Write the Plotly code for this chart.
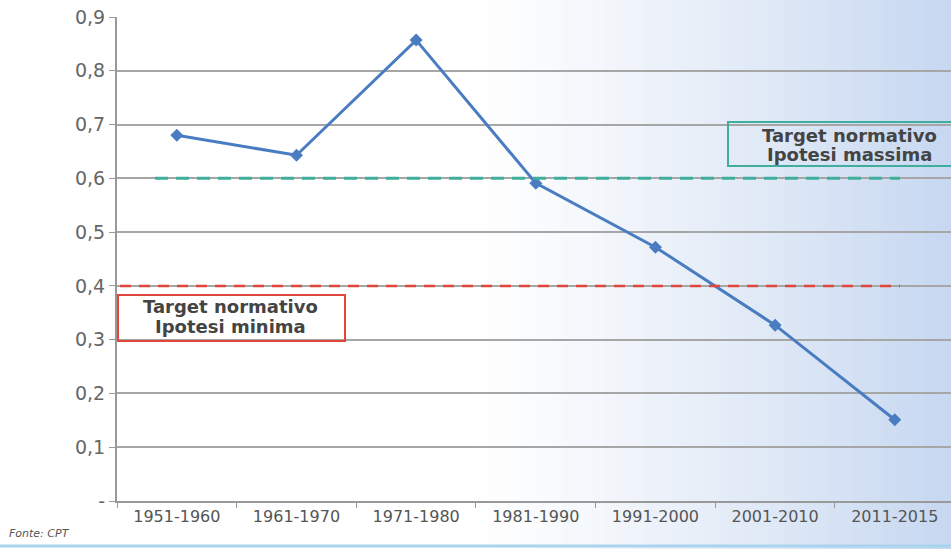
import plotly.graph_objects as go

# Decades and indicator values
periods = ["1951-1960", "1961-1970", "1971-1980", "1981-1990",
           "1991-2000", "2001-2010", "2011-2015"]
values = [0.68, 0.643, 0.857, 0.591, 0.472, 0.327, 0.151]

# Normative targets
target_max = 0.6
target_min = 0.4
label_max = ["Target normativo", "Ipotesi massima"]
label_min = ["Target normativo", "Ipotesi minima"]

y_ticks = [0, 0.1, 0.2, 0.3, 0.4, 0.5, 0.6, 0.7, 0.8, 0.9]
y_tick_text = ["-", "0,1", "0,2", "0,3", "0,4", "0,5", "0,6", "0,7", "0,8", "0,9"]

W, H = 951, 549
L, R, T, B = 117, 0, 17, 48
PW, PH = W - L - R, H - T - B


def px_x(x):
    return (x - L) / PW


def px_y(y):
    return (H - B - y) / PH


fig = go.Figure()

fig.add_trace(go.Scatter(
    x=periods, y=values, mode="lines+markers",
    line=dict(color="#4a7cc2", width=3),
    marker=dict(symbol="diamond", size=10, color="#4a7cc2"),
    showlegend=False, cliponaxis=False,
))

# Background: white on the left fading to pale blue on the right
shapes = []
n = 60
for i in range(n):
    x0 = i / n
    x1 = (i + 1) / n
    t = max(0.0, (x0 - 0.42) / 0.58) ** 1.2
    r = int(255 - t * (255 - 198))
    g = int(255 - t * (255 - 215))
    b = int(255 - t * (255 - 240))
    shapes.append(dict(type="rect", xref="paper", yref="paper",
                       x0=x0 - 0.2 if i == 0 else x0, x1=x1 + 0.001,
                       y0=-0.2, y1=1.1, layer="below", line=dict(width=0),
                       fillcolor=f"rgb({r},{g},{b})"))

# Target lines
shapes.append(dict(type="line", xref="paper", yref="y", x0=px_x(155), x1=px_x(900),
                   y0=target_max, y1=target_max,
                   line=dict(color="#3fae9c", width=3, dash="13px,8px")))
shapes.append(dict(type="line", xref="paper", yref="y", x0=px_x(120), x1=px_x(900),
                   y0=target_min, y1=target_min,
                   line=dict(color="#e0463a", width=2.5, dash="11px,8px")))

# Label boxes
shapes.append(dict(type="rect", xref="paper", yref="paper",
                   x0=px_x(118), x1=px_x(345), y0=px_y(341), y1=px_y(295),
                   line=dict(color="#e0463a", width=2)))
shapes.append(dict(type="rect", xref="paper", yref="paper",
                   x0=px_x(728), x1=px_x(953), y0=px_y(166), y1=px_y(122),
                   line=dict(color="#3fae9c", width=2)))

# Bottom border
shapes.append(dict(type="line", xref="paper", yref="paper", x0=-0.2, x1=1.1,
                   y0=px_y(546), y1=px_y(546),
                   line=dict(color="#a9d4ee", width=3)))

label_font = dict(family="DejaVu Sans", size=18, color="#444444", weight="bold")
annotations = []
for text, cy in zip(label_min, [306, 326]):
    annotations.append(dict(text=text, xref="paper", yref="paper",
                            x=px_x(230), y=px_y(cy), xanchor="center", yanchor="middle",
                            showarrow=False, font=label_font))
for text, cy in zip(label_max, [135, 154]):
    annotations.append(dict(text=text, xref="paper", yref="paper",
                            x=px_x(849), y=px_y(cy), xanchor="center", yanchor="middle",
                            showarrow=False, font=label_font))

annotations.append(dict(text="<i>Fonte: CPT</i>", xref="paper", yref="paper",
                        x=px_x(7), y=px_y(533), xanchor="left", yanchor="middle",
                        showarrow=False,
                        font=dict(family="DejaVu Sans", size=11, color="#555555")))

fig.update_layout(
    width=W, height=H,
    margin=dict(l=L, r=R, t=T, b=B),
    paper_bgcolor="white", plot_bgcolor="rgba(0,0,0,0)",
    shapes=shapes, annotations=annotations,
    xaxis=dict(
        type="category", range=[-0.5, 6.47],
        showgrid=False, showline=True, linecolor="#999999", linewidth=2,
        ticks="outside", tickson="boundaries", ticklen=5, tickcolor="#999999",
        tickfont=dict(family="DejaVu Sans", size=16, color="#555555"),
    ),
    yaxis=dict(
        range=[0, 0.9], tickvals=y_ticks, ticktext=y_tick_text,
        showgrid=True, gridcolor="#a6a6a6", gridwidth=2,
        showline=True, linecolor="#999999", linewidth=2,
        ticks="outside", ticklen=6, tickcolor="#999999",
        tickfont=dict(family="DejaVu Sans", size=19, color="#666666"),
        zeroline=False,
    ),
)

fig.write_html("out.html")
